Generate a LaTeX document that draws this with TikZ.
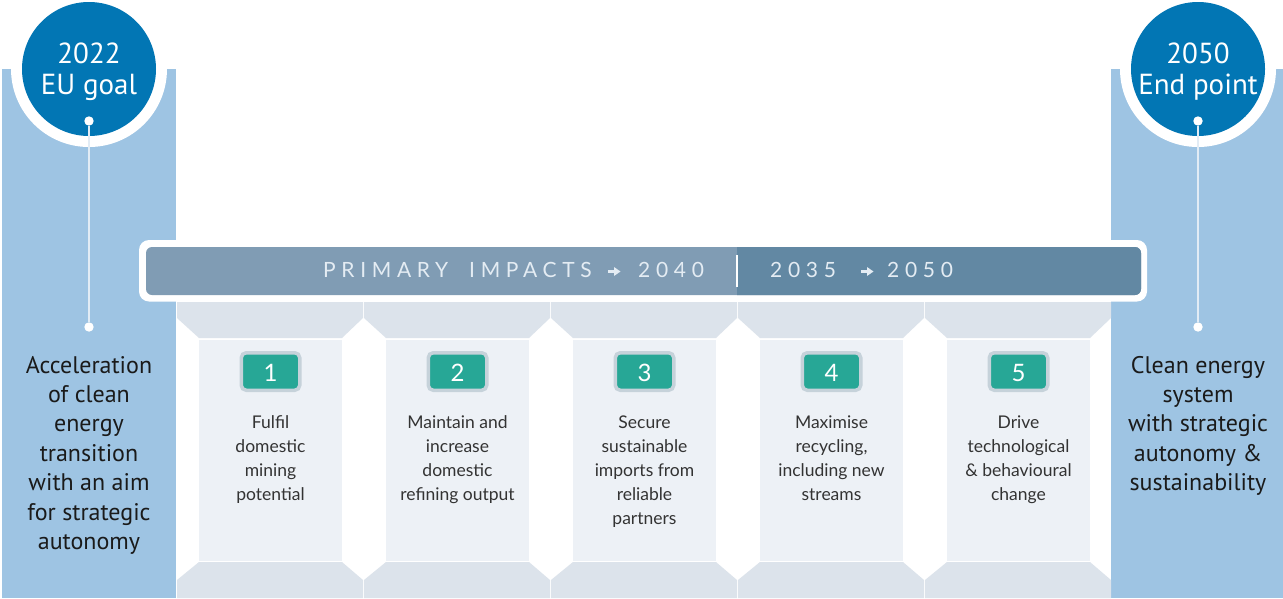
\documentclass[tikz,border=0pt]{standalone}
\usepackage{fontspec}
\setmainfont{Lato}
\newfontfamily\sidefont{PT Sans}
\newfontfamily\banfont[LetterSpace=27]{Lato}
\newfontfamily\bandigits[LetterSpace=27]{Lato}
\definecolor{sideblue}{HTML}{9EC4E3}
\definecolor{circblue}{HTML}{0276B4}
\definecolor{banL}{HTML}{809CB4}
\definecolor{banR}{HTML}{6288A3}
\definecolor{capc}{HTML}{DCE3EB}
\definecolor{panelc}{HTML}{EDF1F6}
\definecolor{tealc}{HTML}{27A796}
\definecolor{badgeb}{HTML}{C6D2DA}
\definecolor{txtc}{HTML}{333333}
\definecolor{sidetxt}{HTML}{1A1A1A}
\definecolor{bantxt}{HTML}{E4ECF3}
\definecolor{linec}{HTML}{E2ECF5}
\tikzset{
  bigcirc/.style={circle, fill=circblue, minimum size=134pt, inner sep=0pt},
  ring/.style={circle, fill=white, minimum size=156pt, inner sep=0pt},
  circtxt/.style={anchor=north, inner sep=0pt, align=center, text=white, font=\sidefont\fontsize{29}{31}\selectfont},
  dotnode/.style={circle, fill=white, minimum size=9.4pt, inner sep=0pt},
  vline/.style={draw=linec, line width=1.5pt},
  sidetext/.style={anchor=north, inner sep=0pt, align=center, text=sidetxt, font=\sidefont\fontsize{24}{29.4}\selectfont},
  badge/.style={fill=tealc, draw=badgeb, line width=3.5pt, rounded corners=5pt, minimum width=58.5pt, minimum height=37.5pt, inner sep=0pt},
  numtxt/.style={text=white, inner sep=0pt, font=\fontsize{24}{24}\selectfont},
  coltext/.style={anchor=north, inner sep=0pt, align=center, text=txtc, font=\fontsize{17.5}{24}\selectfont},
  bantext/.style={anchor=base west, inner sep=0pt, text=bantxt, font=\banfont\fontsize{21}{21}\selectfont},
  bandig/.style={anchor=base west, inner sep=0pt, text=bantxt, font=\bandigits\fontsize{21}{21}\selectfont},
  banarrow/.style={fill=bantxt},
}
\begin{document}
\begin{tikzpicture}[x=1pt,y=-1pt]
\useasboundingbox (0,0) rectangle (1283,598);
\fill[white] (0,0) rectangle (1283,598);
% side panels
\fill[sideblue] (2,69) rectangle (176,598);
\fill[sideblue] (1111,69) rectangle (1283,598);
% columns
\foreach \i in {0,...,4}{
  \pgfmathsetmacro{\xo}{176+187*\i}
  \fill[capc] (\xo+1,302) -- (\xo+187,302) -- (\xo+187,318) -- (\xo+166,338) -- (\xo+23,338) -- (\xo+1,318) -- cycle;
  \fill[panelc] (\xo+23,339.5) rectangle (\xo+166,561);
  \fill[capc] (\xo+23,562) -- (\xo+166,562) -- (\xo+187,580) -- (\xo+187,598) -- (\xo+1,598) -- (\xo+1,580) -- cycle;
}
% banner
\fill[white, rounded corners=10pt] (139,240) rectangle (1147,301.5);
\fill[banL, rounded corners=6pt] (146,247) rectangle (1141,295);
\begin{scope}
  \clip (737,240) rectangle (1150,302);
  \fill[banR, rounded corners=6pt] (146,247) rectangle (1141,295);
\end{scope}
\draw[white, line width=2pt] (737,255) -- (737,287);
\node[bantext] (banA) at (323,277) {PRIMARY};
\node[bantext] (banA1) at (469,277) {IMPACTS};
\fill[banarrow] (608,270.2) -- (614,270.2) -- (614,267) -- (620.5,271.5) -- (614,276) -- (614,272.8) -- (608,272.8) -- cycle;
\node[bandig] (banA2) at (638,277) {2040};
\node[bandig] (banB) at (770,277) {2035};
\fill[banarrow] (861,270.2) -- (867,270.2) -- (867,267) -- (873.5,271.5) -- (867,276) -- (867,272.8) -- (861,272.8) -- cycle;
\node[bandig] (banB2) at (887,277) {2050};
% circles
\node[ring] (ringL) at (89,69) {};
\node[bigcirc] (cL) at (89,69) {};
\node[circtxt] (cLt) at (89,41.3) {\strut 2022\\EU goal};
\node[ring] (ringR) at (1198,69) {};
\node[bigcirc] (cR) at (1198,69) {};
\node[circtxt] (cRt) at (1198,41.3) {\strut 2050\\End point};
% dots and lines
\node[dotnode] (dL1) at (89,121) {};
\node[dotnode] (dL2) at (89,327) {};
\draw[vline] (dL1) -- (dL2);
\node[dotnode] (dR1) at (1198,121) {};
\node[dotnode] (dR2) at (1198,327) {};
\draw[vline] (dR1) -- (dR2);
% side texts
\node[sidetext] (tL) at (89,352.4) {\strut Acceleration\\of clean\\energy\\transition\\with an aim\\for strategic\\autonomy};
\node[sidetext] (tR) at (1198,352.4) {\strut Clean energy\\system\\with strategic\\autonomy \&\\sustainability};
% badges
\node[badge] (b1) at (270.5,371.5) {};
\node[badge] (b2) at (457.5,371.5) {};
\node[badge] (b3) at (644.5,371.5) {};
\node[badge] (b4) at (831.5,371.5) {};
\node[badge] (b5) at (1018.5,371.5) {};
\node[numtxt] (n1) at ([yshift=-1.5pt]b1.center) {1};
\node[numtxt] (n2) at ([yshift=-1.5pt]b2.center) {2};
\node[numtxt] (n3) at ([yshift=-1.5pt]b3.center) {3};
\node[numtxt] (n4) at ([yshift=-1.5pt]b4.center) {4};
\node[numtxt] (n5) at ([yshift=-1.5pt]b5.center) {5};
% column texts
\node[coltext] (c1) at (270.5,411.2) {\strut Fulfil\\domestic\\mining\\potential};
\node[coltext] (c2) at (457.5,411.2) {\strut Maintain and\\increase\\domestic\\refining output};
\node[coltext] (c3) at (644.5,411.2) {\strut Secure\\sustainable\\imports from\\reliable\\partners};
\node[coltext] (c4) at (831.5,411.2) {\strut Maximise\\recycling,\\including new\\streams};
\node[coltext] (c5) at (1018.5,411.2) {\strut Drive\\technological\\\& behavioural\\change};
\end{tikzpicture}
\end{document}
